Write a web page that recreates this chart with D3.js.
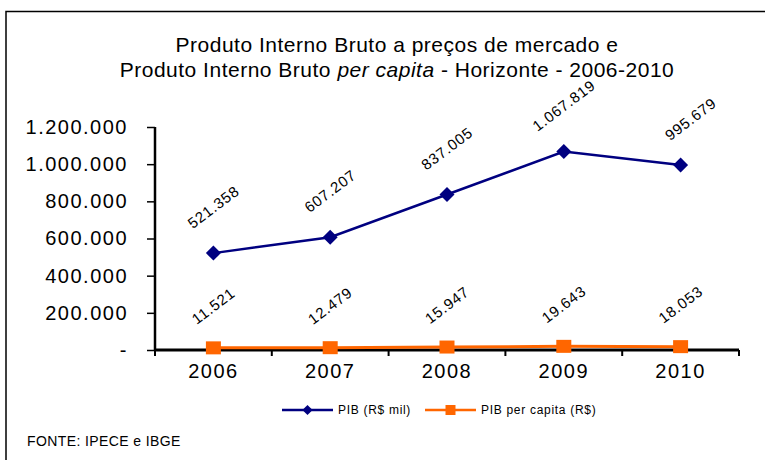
<!DOCTYPE html>
<html>
<head>
<meta charset="utf-8">
<script src="https://cdn.jsdelivr.net/npm/d3@7"></script>
<style>
  body { margin: 0; background: #fff; }
  svg text { font-family: Arial, "Liberation Sans", sans-serif; fill: #000; }
</style>
</head>
<body>
<div class="chart"></div>
<script>
const years = ['2006', '2007', '2008', '2009', '2010'];
const pib = [521358, 607207, 837005, 1067819, 995679];
const pibPerCapita = [11521, 12479, 15947, 19643, 18053];
const yTicks = [0, 200000, 400000, 600000, 800000, 1000000, 1200000];
const seriesNames = ['PIB (R$ mil)', 'PIB per capita (R$)'];

const width = 765, height = 460;
const margin = { left: 155, right: 26, top: 127, bottom: 110 };

const br = d3.formatLocale({ decimal: ',', thousands: '.', grouping: [3], currency: ['R$', ''] });
const fmt = br.format(',d');

const svg = d3.select('.chart')
              .append('svg')
              .attr('width', width)
              .attr('height', height);

// frame (only top/left visible)
svg.append('rect')
   .attr('x', 6).attr('y', 11.5)
   .attr('width', 800).attr('height', 500)
   .attr('fill', 'none').attr('stroke', '#000').attr('stroke-width', 1.5);

// title
const title = svg.append('text')
                 .attr('text-anchor', 'middle')
                 .style('font-size', '21px')
                 .style('letter-spacing', '0.5px');
title.append('tspan').attr('x', 397).attr('y', 52)
     .text('Produto Interno Bruto a preços de mercado  e');
const l2 = title.append('tspan').attr('x', 397).attr('y', 77);
l2.append('tspan').text('Produto Interno Bruto ');
l2.append('tspan').style('font-style', 'italic').text('per capita');
l2.append('tspan').text(' - Horizonte - 2006-2010');

// scales
const x = d3.scaleBand()
            .domain(years)
            .range([margin.left, width - margin.right]);
const y = d3.scaleLinear()
            .domain([0, 1200000])
            .range([height - margin.bottom, margin.top]);

// y axis
const yAxis = svg.append('g')
   .attr('transform', `translate(${margin.left}, 0)`)
   .call(d3.axisLeft(y).tickValues(yTicks).tickSize(8).tickPadding(19)
           .tickFormat(d => d === 0 ? '-' : fmt(d)));
yAxis.select('.domain').attr('stroke-width', 2.5).attr('d', `M0,${y(1200000)}V${y(0)}`);
yAxis.selectAll('.tick line').attr('stroke-width', 1.5);
yAxis.selectAll('.tick text')
     .style('font-size', '20px')
     .style('letter-spacing', '1.5px')
     .style('font-family', 'Arial, "Liberation Sans", sans-serif');

// x axis
const xg = svg.append('g');
xg.append('line')
  .attr('x1', margin.left).attr('x2', width - margin.right)
  .attr('y1', y(0)).attr('y2', y(0))
  .attr('stroke', '#000').attr('stroke-width', 3);
const bounds = years.map(d => x(d)).concat([x(years[years.length - 1]) + x.bandwidth()]);
xg.selectAll('.xtick')
  .data(bounds)
  .join('line')
  .attr('x1', d => d).attr('x2', d => d)
  .attr('y1', y(0)).attr('y2', y(0) + 6)
  .attr('stroke', '#000').attr('stroke-width', 2);
xg.selectAll('.xlabel')
  .data(years)
  .join('text')
  .attr('x', d => x(d) + x.bandwidth() / 2)
  .attr('y', y(0) + 28)
  .attr('text-anchor', 'middle')
  .style('font-size', '20px')
  .style('letter-spacing', '1.5px')
  .text(d => d);

const cx = d => x(d) + x.bandwidth() / 2;

// series
const series = [
  { values: pib, color: '#000080', shape: 'diamond', width: 2.5, labelOff: 46 },
  { values: pibPerCapita, color: '#FF6600', shape: 'square', width: 3, labelOff: 42 }
];

const line = d3.line().x(d => cx(d.year)).y(d => y(d.v));

series.forEach(s => {
  const pts = years.map((yr, i) => ({ year: yr, v: s.values[i] }));
  svg.append('path')
     .datum(pts)
     .attr('d', line)
     .attr('fill', 'none')
     .attr('stroke', s.color)
     .attr('stroke-width', s.width);
  svg.selectAll(null)
     .data(pts)
     .join('path')
     .attr('transform', d => `translate(${cx(d.year)}, ${y(d.v)})` + (s.shape === 'diamond' ? ' rotate(45)' : ''))
     .attr('d', s.shape === 'diamond' ? 'M-5.3,-5.3h10.6v10.6h-10.6Z' : 'M-7.5,-6.5h15v13h-15Z')
     .attr('fill', s.color);
  svg.selectAll(null)
     .data(pts)
     .join('text')
     .attr('transform', (d, i) => `translate(${cx(d.year) + (i === 4 && s.shape === 'diamond' ? 10 : 0)}, ${y(d.v) - s.labelOff}) rotate(-37)`)
     .attr('text-anchor', 'middle')
     .attr('dy', '0.35em')
     .style('font-size', '15px')
     .style('letter-spacing', '0.8px')
     .text(d => fmt(d.v));
});

// legend
const legend = svg.append('g').attr('transform', 'translate(282, 410)');
const legItems = [
  { name: seriesNames[0], color: '#000080', shape: 'diamond', x: 0 },
  { name: seriesNames[1], color: '#FF6600', shape: 'square', x: 143 }
];
legItems.forEach(l => {
  const g = legend.append('g').attr('transform', `translate(${l.x}, 0)`);
  g.append('line').attr('x1', 0).attr('x2', 51).attr('y1', 0).attr('y2', 0)
   .attr('stroke', l.color).attr('stroke-width', 2.5);
  g.append('path')
   .attr('transform', 'translate(25.5, 0)' + (l.shape === 'diamond' ? ' rotate(45)' : ''))
   .attr('d', l.shape === 'diamond' ? 'M-3.6,-3.6h7.2v7.2h-7.2Z' : 'M-5,-5h10v10h-10Z')
   .attr('fill', l.color);
  g.append('text')
   .attr('x', 56).attr('y', 0).attr('dy', '0.35em')
   .style('font-size', '12px')
   .style('letter-spacing', '0.7px')
   .text(l.name);
});

// source
svg.append('text')
   .attr('x', 27).attr('y', 446)
   .style('font-size', '14px')
   .style('letter-spacing', '0.4px')
   .text('FONTE: IPECE e IBGE');
</script>
</body>
</html>
